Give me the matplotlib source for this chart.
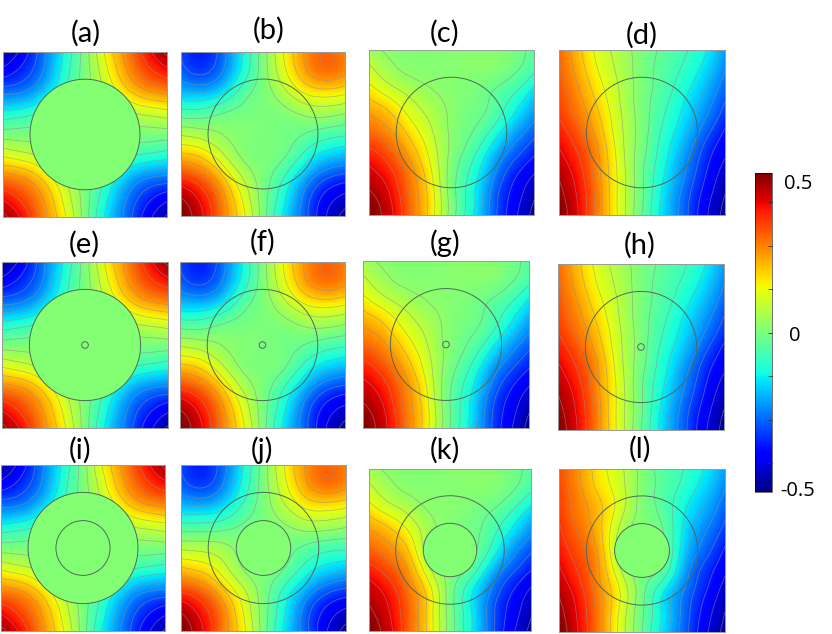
import numpy as np
import matplotlib
matplotlib.use("Agg")
import matplotlib.pyplot as plt
import matplotlib.tri as mtri
from matplotlib.cm import ScalarMappable
from matplotlib.colors import Normalize
from matplotlib.patches import Circle

# potential on a 9x9 grid, top row first
field_a = [[-.52, -.42, -.28, -.14, 0, .16, .29, .42, .53],
           [-.42, -.36, -.26, -.12, 0, .13, .26, .36, .42],
           [-.28, -.26, -.18, -.08, 0, .08, .18, .25, .28],
           [-.13, -.11, -.07, -.02, 0, .02, .07, .10, .12],
           [.00, .00, .00, .00, 0, .00, .00, .00, .00],
           [.14, .11, .07, .02, 0, -.02, -.07, -.10, -.12],
           [.29, .26, .18, .08, 0, -.08, -.18, -.25, -.27],
           [.43, .36, .26, .13, 0, -.13, -.26, -.36, -.42],
           [.53, .43, .29, .16, 0, -.16, -.29, -.42, -.52]]
field_b = [[-.33, -.38, -.30, -.15, 0, .15, .27, .33, .29],
           [-.30, -.34, -.27, -.13, 0, .13, .25, .31, .28],
           [-.20, -.21, -.16, -.06, 0, .07, .15, .18, .16],
           [-.06, -.06, -.03, -.01, 0, .01, .04, .05, .03],
           [.08, .06, .03, .01, 0, -.01, -.03, -.06, -.08],
           [.22, .19, .10, .02, 0, -.02, -.10, -.17, -.20],
           [.37, .32, .21, .08, 0, -.08, -.20, -.30, -.34],
           [.50, .42, .29, .14, 0, -.13, -.28, -.40, -.46],
           [.55, .46, .31, .17, 0, -.16, -.30, -.44, -.53]]
field_c = [[.05, .02, .01, .01, .015, .02, .015, -.01, -.05],
           [.11, .05, .02, .015, .015, .015, .01, -.02, -.08],
           [.18, .12, .07, .035, .015, .00, -.03, -.08, -.17],
           [.26, .21, .13, .07, .02, -.01, -.05, -.14, -.24],
           [.33, .28, .19, .10, .02, -.03, -.11, -.22, -.31],
           [.41, .35, .25, .13, .015, -.07, -.19, -.30, -.38],
           [.47, .41, .30, .16, .00, -.11, -.25, -.37, -.45],
           [.52, .45, .32, .18, .00, -.13, -.29, -.41, -.50],
           [.55, .47, .33, .18, .00, -.14, -.30, -.43, -.53]]
field_d = [[.33, .22, .12, .06, .00, -.04, -.08, -.14, -.24],
           [.34, .24, .14, .07, .00, -.05, -.10, -.17, -.27],
           [.36, .27, .17, .08, .00, -.06, -.13, -.21, -.31],
           [.38, .30, .20, .09, .00, -.08, -.16, -.25, -.35],
           [.42, .34, .23, .10, .00, -.10, -.19, -.30, -.40],
           [.46, .38, .26, .11, -.01, -.12, -.23, -.35, -.44],
           [.50, .41, .27, .12, -.02, -.14, -.26, -.38, -.48],
           [.53, .43, .28, .12, -.02, -.16, -.29, -.41, -.51],
           [.55, .44, .28, .12, -.03, -.17, -.30, -.43, -.53]]
field_j = [[-.33, -.38, -.30, -.15, 0, .15, .27, .33, .29],
           [-.30, -.34, -.27, -.13, 0, .13, .25, .31, .28],
           [-.20, -.21, -.17, -.08, 0, .08, .16, .18, .16],
           [-.06, -.06, -.05, -.02, 0, .02, .05, .05, .03],
           [.08, .07, .05, .01, 0, -.01, -.04, -.07, -.08],
           [.22, .19, .12, .03, 0, -.03, -.11, -.17, -.20],
           [.37, .32, .22, .10, 0, -.10, -.21, -.30, -.34],
           [.50, .42, .30, .15, 0, -.14, -.29, -.40, -.46],
           [.55, .46, .31, .17, 0, -.16, -.30, -.44, -.53]]
field_k = [[.05, .02, .01, .01, .015, .02, .015, -.01, -.05],
           [.11, .05, .02, .015, .015, .015, .01, -.02, -.08],
           [.18, .12, .07, .025, .015, .00, -.025, -.08, -.17],
           [.27, .22, .14, .05, .01, -.01, -.06, -.15, -.25],
           [.34, .29, .20, .05, .01, -.01, -.10, -.23, -.32],
           [.42, .36, .26, .10, .01, -.05, -.19, -.31, -.39],
           [.48, .42, .31, .17, .00, -.13, -.27, -.38, -.46],
           [.52, .45, .33, .18, .00, -.14, -.30, -.41, -.50],
           [.55, .47, .33, .18, .00, -.14, -.30, -.43, -.53]]
field_l = [[.36, .27, .17, .10, .01, -.05, -.09, -.15, -.24],
           [.37, .28, .19, .11, .01, -.05, -.11, -.18, -.27],
           [.38, .30, .22, .11, .01, -.05, -.14, -.22, -.31],
           [.40, .32, .22, .07, .01, -.03, -.16, -.26, -.35],
           [.43, .35, .24, .05, .01, -.02, -.18, -.30, -.40],
           [.46, .38, .26, .09, .00, -.05, -.22, -.35, -.44],
           [.50, .41, .28, .14, -.01, -.14, -.27, -.38, -.48],
           [.53, .43, .29, .13, -.02, -.16, -.29, -.41, -.51],
           [.55, .44, .29, .12, -.03, -.17, -.30, -.43, -.53]]

labels = ["(a)", "(b)", "(c)", "(d)", "(e)", "(f)", "(g)", "(h)", "(i)", "(j)", "(k)", "(l)"]
fields = [field_a, field_b, field_c, field_d,
          field_a, field_b, field_c, field_d,
          field_a, field_j, field_k, field_l]
# left, right, top, bottom of each map and centre of its title, in pixels
boxes = [(3, 167, 52, 217, 86, 33), (181, 345, 52, 216, 269, 30), (369, 534, 50, 215, 445, 33), (559, 725, 50, 215, 642, 35),
         (2, 168, 262, 428, 84, 244), (180, 345, 262, 428, 263, 242), (363, 529, 261, 428, 445, 243), (558, 724, 264, 430, 640, 245),
         (1, 165, 465, 631, 80, 450), (181, 346, 465, 631, 262, 450), (369, 531, 469, 631, 445, 450), (559, 725, 469, 632, 640, 449)]
# inner feature: filled outer disc, small hole or larger filled core
outer_filled = [True, False, False, False, True, False, False, False, True, False, False, False]
inner_radius = [0, 0, 0, 0, .02, .02, .02, .02, .165, .165, .165, .165]

W, H = 832, 634
VMAX = 0.55
cmap = plt.get_cmap("jet")
norm = Normalize(-VMAX, VMAX)
levels = np.arange(-.51, .52, .06)
flat = cmap(norm(0.01))
LINE = "#4f6b5a"

fig = plt.figure(figsize=(W / 100, H / 100), dpi=100)


def px_axes(left, right, top, bottom):
    return fig.add_axes([left / W, 1 - bottom / H, (right - left) / W, (bottom - top) / H])


gx, gy = np.meshgrid(np.linspace(0, 1, 9), np.linspace(1, 0, 9))
tri = mtri.Triangulation(gx.ravel(), gy.ravel())
refiner = mtri.UniformTriRefiner(tri)

for i, (lab, field, box) in enumerate(zip(labels, fields, boxes)):
    ax = px_axes(*box[:4])
    z = np.array(field).ravel()
    interp = mtri.CubicTriInterpolator(tri, z, kind="min_E")
    fine_tri, fine_z = refiner.refine_field(z, triinterpolator=interp, subdiv=4)
    ax.tripcolor(fine_tri, fine_z, shading="gouraud", cmap=cmap, norm=norm)
    ax.tricontour(fine_tri, fine_z, levels=levels, colors="#909090", linewidths=0.6,
                  linestyles="solid", alpha=0.55)

    ax.add_patch(Circle((.5, .5), .335, fc=flat if outer_filled[i] else "none", ec=LINE, lw=0.7, zorder=3))
    if inner_radius[i] > 0:
        filled = inner_radius[i] > .1
        ax.add_patch(Circle((.5, .5), inner_radius[i], fc=flat if filled else "none", ec=LINE, lw=0.7, zorder=4))

    ax.set_xlim(0, 1)
    ax.set_ylim(0, 1)
    ax.set_xticks([])
    ax.set_yticks([])
    for s in ax.spines.values():
        s.set_color("#9a9a9a")
        s.set_linewidth(0.7)
    fig.text(box[4] / W, 1 - box[5] / H, lab, ha="center", va="center", fontsize=21, family="Lato", color="black")

# colour bar
cax = px_axes(755, 772, 173, 492)
cb = fig.colorbar(ScalarMappable(norm=norm, cmap=cmap), cax=cax)
cb.set_ticks([-.45, -.3, -.15, 0, .15, .3, .45])
cb.set_ticklabels([])
cb.ax.tick_params(direction="in", length=3, width=0.6, color="#333333")
cb.outline.set_linewidth(0.4)

for txt, x, y in [("0.5", 798, 184), ("0", 795, 336), ("-0.5", 798, 491)]:
    fig.text(x / W, 1 - y / H, txt, ha="center", va="center", fontsize=14.5, family="Open Sans", color="black")

fig.savefig("out.png", dpi=100)
